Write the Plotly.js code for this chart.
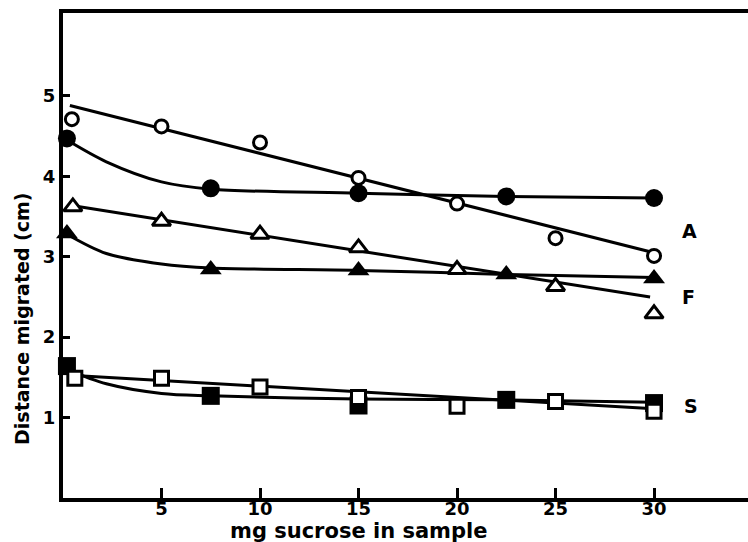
<!DOCTYPE html>
<html>
<head>
<meta charset="utf-8">
<script src="https://cdn.plot.ly/plotly-3.0.1.min.js"></script>
<style>html,body{margin:0;padding:0;background:#fff;}#chart{width:748px;height:542px;}</style>
</head>
<body>
<div id="chart"></div>
<script>
// ---- data ----
// Series A (open circles = one condition, filled circles = other)
const A_open_x = [0.45, 5, 10, 15, 20, 25, 30];
const A_open_y = [4.71, 4.62, 4.42, 3.98, 3.66, 3.23, 3.01];
const A_fill_x = [0.2, 7.5, 15, 22.5, 30];
const A_fill_y = [4.47, 3.85, 3.79, 3.75, 3.73];
// Series F
const F_open_x = [0.5, 5, 10, 15, 20, 25, 30];
const F_open_y = [3.62, 3.44, 3.28, 3.11, 2.84, 2.63, 2.29];
const F_fill_x = [0.2, 7.5, 15, 22.5, 30];
const F_fill_y = [3.29, 2.84, 2.83, 2.78, 2.73];
// Series S
const S_open_x = [0.6, 5, 10, 15, 20, 25, 30];
const S_open_y = [1.49, 1.49, 1.38, 1.25, 1.14, 1.20, 1.08];
const S_fill_x = [0.2, 7.5, 15, 22.5, 30];
const S_fill_y = [1.64, 1.27, 1.15, 1.22, 1.18];

// fitted straight lines drawn through open symbols (end points)
const A_fit_x = [0.35, 30], A_fit_y = [4.88, 3.05];
const F_fit_x = [0.6, 29.8], F_fit_y = [3.63, 2.50];
const S_fit_x = [0.8, 30],  S_fit_y = [1.52, 1.11];

// hand-drawn curves through filled symbols
const A_curve_x = [0.2, 2.2, 5.0, 7.5, 15, 22.5, 30];
const A_curve_y = [4.45, 4.18, 3.93, 3.84, 3.79, 3.75, 3.73];
const F_curve_x = [0.2, 2.2, 5.0, 7.5, 15, 22.5, 30];
const F_curve_y = [3.28, 3.04, 2.91, 2.86, 2.83, 2.78, 2.74];
const S_curve_x = [0.2, 2.2, 5.0, 7.5, 15, 22.5, 30];
const S_curve_y = [1.60, 1.42, 1.30, 1.27, 1.23, 1.22, 1.19];

const labels = ['A', 'F', 'S'];
const label_x = [31.3, 31.3, 31.4];
const label_y = [3.32, 2.50, 1.14];

const xTicks = [5, 10, 15, 20, 25, 30];
const yTicks = [1, 2, 3, 4, 5];

// ---- traces ----
const K = '#000';
function line(x, y, shape) {
  return {x: x, y: y, mode: 'lines', type: 'scatter', hoverinfo: 'skip',
          line: {color: K, width: 3, shape: shape || 'linear', smoothing: 0.9}};
}
function pts(x, y, symbol, filled, size) {
  return {x: x, y: y, mode: 'markers', type: 'scatter', cliponaxis: false,
          marker: {symbol: symbol, size: size, color: filled ? K : '#fff',
                   line: {color: K, width: filled ? 0 : 3}}};
}
const traces = [
  line(A_fit_x, A_fit_y), line(F_fit_x, F_fit_y), line(S_fit_x, S_fit_y),
  line(A_curve_x, A_curve_y, 'spline'), line(F_curve_x, F_curve_y, 'spline'), line(S_curve_x, S_curve_y, 'spline'),
  pts(A_fill_x, A_fill_y, 'circle', true, 18),
  pts(F_fill_x, F_fill_y, 'triangle-up', true, 19),
  pts(S_fill_x, S_fill_y, 'square', true, 18),
  pts(A_open_x, A_open_y, 'circle', false, 13),
  pts(F_open_x, F_open_y, 'triangle-up', false, 16),
  pts(S_open_x, S_open_y, 'square', false, 14)
];

const tickFont = {family: 'DejaVu Sans', size: 18, color: K, weight: 'bold'};

const annotations = labels.map((t, i) => ({
  x: label_x[i], y: label_y[i], xref: 'x', yref: 'y', text: t, showarrow: false,
  xanchor: 'left', yanchor: 'middle',
  font: {family: 'DejaVu Sans', size: 19, color: K, weight: 'bold'}
}));
annotations.push({
  x: 0.432, y: -0.068, xref: 'paper', yref: 'paper', text: 'mg sucrose in sample',
  showarrow: false, xanchor: 'center', yanchor: 'middle',
  font: {family: 'DejaVu Sans', size: 21, color: K, weight: 'bold'}
});
annotations.push({
  x: -0.06, y: 0.371, xref: 'paper', yref: 'paper', text: 'Distance migrated (cm)',
  showarrow: false, xanchor: 'center', yanchor: 'middle', textangle: -90,
  font: {family: 'DejaVu Sans', size: 19, color: K, weight: 'bold'}
});

const layout = {
  width: 748, height: 542,
  margin: {l: 63, r: 0, t: 13, b: 44},
  paper_bgcolor: '#fff', plot_bgcolor: '#fff',
  showlegend: false,
  xaxis: {range: [0, 34.77], tickvals: xTicks, ticktext: xTicks.map(String),
          ticks: 'inside', ticklen: 10, tickwidth: 3, tickcolor: K,
          showline: true, linewidth: 4, linecolor: K, mirror: true,
          ticklabelstandoff: -9,
          showgrid: false, zeroline: false, tickfont: tickFont},
  yaxis: {range: [0, 6.03], tickvals: yTicks, ticktext: yTicks.map(String),
          ticks: 'inside', ticklen: 7, tickwidth: 3, tickcolor: K,
          showline: true, linewidth: 4, linecolor: K,
          showgrid: false, zeroline: false, tickfont: tickFont},
  annotations: annotations
};

Plotly.newPlot('chart', traces, layout, {displayModeBar: false, staticPlot: true});
</script>
</body>
</html>
